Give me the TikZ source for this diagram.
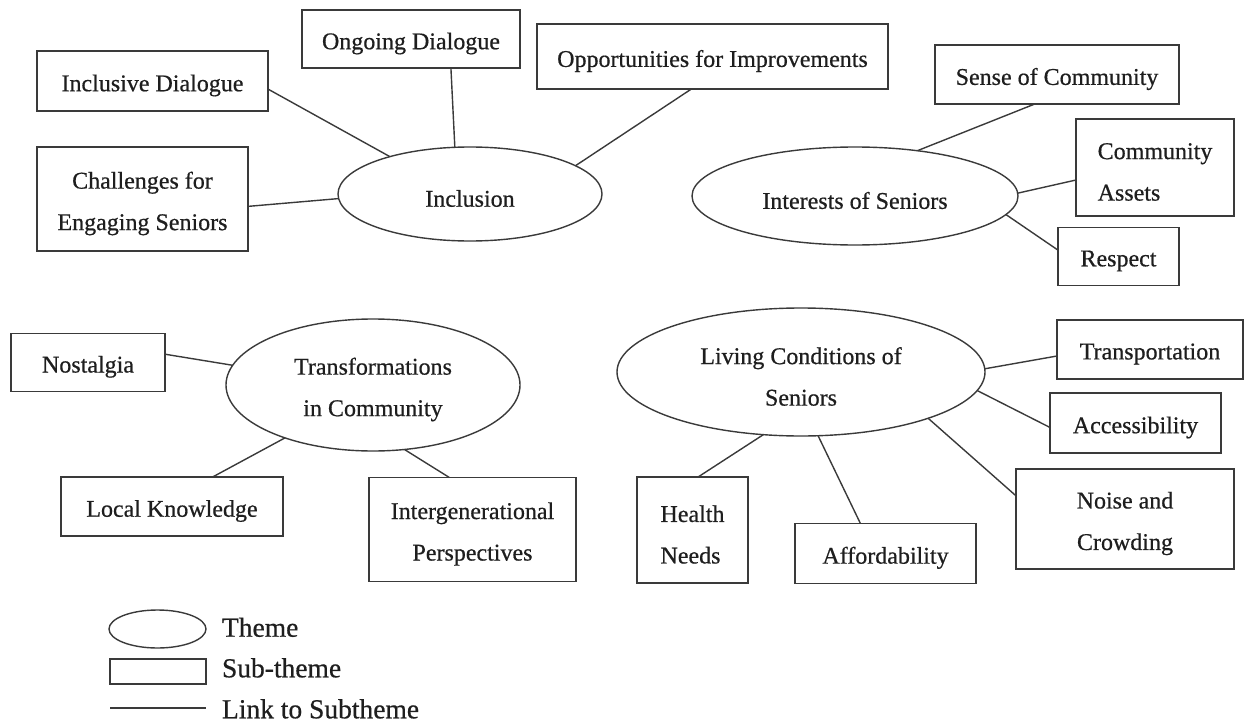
\documentclass[tikz,border=0pt]{standalone}
\usepackage{fontspec}
\setmainfont{Liberation Serif}
\newfontfamily\diagfont{Liberation Serif}[FakeBold=0.6]
\usetikzlibrary{shapes.geometric}
\definecolor{linegray}{RGB}{58,58,58}
\definecolor{inkgray}{RGB}{30,30,30}
\begin{document}
\begin{tikzpicture}[x=1pt,y=-1pt,
  every node/.style={inner sep=0pt, outer sep=0pt},
  txt/.style={text=inkgray, align=center, yshift=-4.5pt,
    font=\diagfont\fontsize{24}{41.5}\selectfont},
  txtleft/.style={txt, align=left},
  theme/.style={draw=linegray, line width=1.4pt, ellipse, label={[txt]center:{#1}}},
  subtheme/.style={draw=linegray, line width=1.6pt, rectangle, label={[txt]center:{#1}}},
  subthemeleft/.style={draw=linegray, line width=1.6pt, rectangle, label={[txtleft]center:{#1}}},
  link/.style={draw=linegray, line width=1.4pt},
  keytext/.style={anchor=base west, text=inkgray, font=\diagfont\fontsize{27.5}{33}\selectfont}]
\useasboundingbox (0,0) rectangle (1246,722);

% themes
\node[theme={Inclusion}, minimum width=264, minimum height=94] (inclusion) at (470,194) {};
\node[theme={Interests of Seniors}, minimum width=326, minimum height=98] (interests) at (855,196) {};
\node[theme={Transformations\\in Community}, minimum width=294, minimum height=132] (transf) at (373,385) {};
\node[theme={Living Conditions of\\Seniors}, minimum width=368, minimum height=128] (living) at (801,372) {};

% sub-themes of Inclusion
\node[subtheme={Inclusive Dialogue}, minimum width=231, minimum height=60] (incdia) at (152.5,81) {};
\node[subtheme={Ongoing Dialogue}, minimum width=218, minimum height=58] (ongdia) at (411,39) {};
\node[subtheme={Opportunities for Improvements}, minimum width=351, minimum height=65] (opp) at (712.5,56.5) {};
\node[subtheme={Challenges for\\Engaging Seniors}, minimum width=211, minimum height=104] (chal) at (142.5,199) {};

% sub-themes of Interests of Seniors
\node[subtheme={Sense of Community}, minimum width=244, minimum height=59] (sense) at (1057,74.5) {};
\node[subthemeleft={Community\\Assets}, minimum width=158, minimum height=97] (assets) at (1155,167.5) {};
\node[subtheme={Respect}, minimum width=121, minimum height=58] (respect) at (1118.5,256.5) {};

% sub-themes of Transformations in Community
\node[subtheme={Nostalgia}, minimum width=154, minimum height=58] (nostalgia) at (88,362.3) {};
\node[subtheme={Local Knowledge}, minimum width=222, minimum height=59] (local) at (172,506.5) {};
\node[subtheme={Intergenerational\\Perspectives}, minimum width=207, minimum height=104] (intergen) at (472.5,529.5) {};

% sub-themes of Living Conditions of Seniors
\node[subtheme={Transportation}, minimum width=186, minimum height=59] (transp) at (1150,349.5) {};
\node[subtheme={Accessibility}, minimum width=171, minimum height=60] (access) at (1135.5,423) {};
\node[subtheme={Noise and\\Crowding}, minimum width=218, minimum height=100] (noise) at (1125,519) {};
\node[subthemeleft={Health\\Needs}, minimum width=111, minimum height=106] (health) at (692.5,530) {};
\node[subtheme={Affordability}, minimum width=181, minimum height=60] (afford) at (885.5,553.3) {};

% links
\draw[link] (incdia.-4.8) -- (inclusion.155.1);
\draw[link] (ongdia.-36.5) -- (inclusion.108.3);
\draw[link] (opp.237.6) -- (inclusion.15);
\draw[link] (chal.-4.2) -- (inclusion.182.6);

\draw[link] (sense.233.3) -- (interests.36.9);
\draw[link] (assets.189) -- (interests.1);
\draw[link] (respect.174.1) -- (interests.-7.9);

\draw[link] (nostalgia.6.8) -- (transf.172.7);
\draw[link] (local.36.8) -- (transf.211.7);
\draw[link] (intergen.114.1) -- (transf.-64.7);

\draw[link] (transp.184.5) -- (living.1.3);
\draw[link] (access.183.5) -- (living.-6.9);
\draw[link] (noise.168.1) -- (living.-20.9);
\draw[link] (health.84.1) -- (living.-121.2);
\draw[link] (afford.130.1) -- (living.-75.5);

% key
\node[draw=linegray, line width=1.4pt, ellipse, minimum width=97, minimum height=38] (keytheme) at (157.5,629) {};
\node[draw=linegray, line width=1.6pt, rectangle, minimum width=96, minimum height=25] (keysub) at (158,671.5) {};
\coordinate (keyA) at (110,708);
\coordinate (keyB) at (206,708);
\draw[link] (keyA) -- (keyB);
\node[keytext] (keythemetext) at (222,636.7) {Theme};
\node[keytext] (keysubtext) at (222,677.3) {Sub-theme};
\node[keytext] (keylinktext) at (222,718.3) {Link to Subtheme};
\end{tikzpicture}
\end{document}
